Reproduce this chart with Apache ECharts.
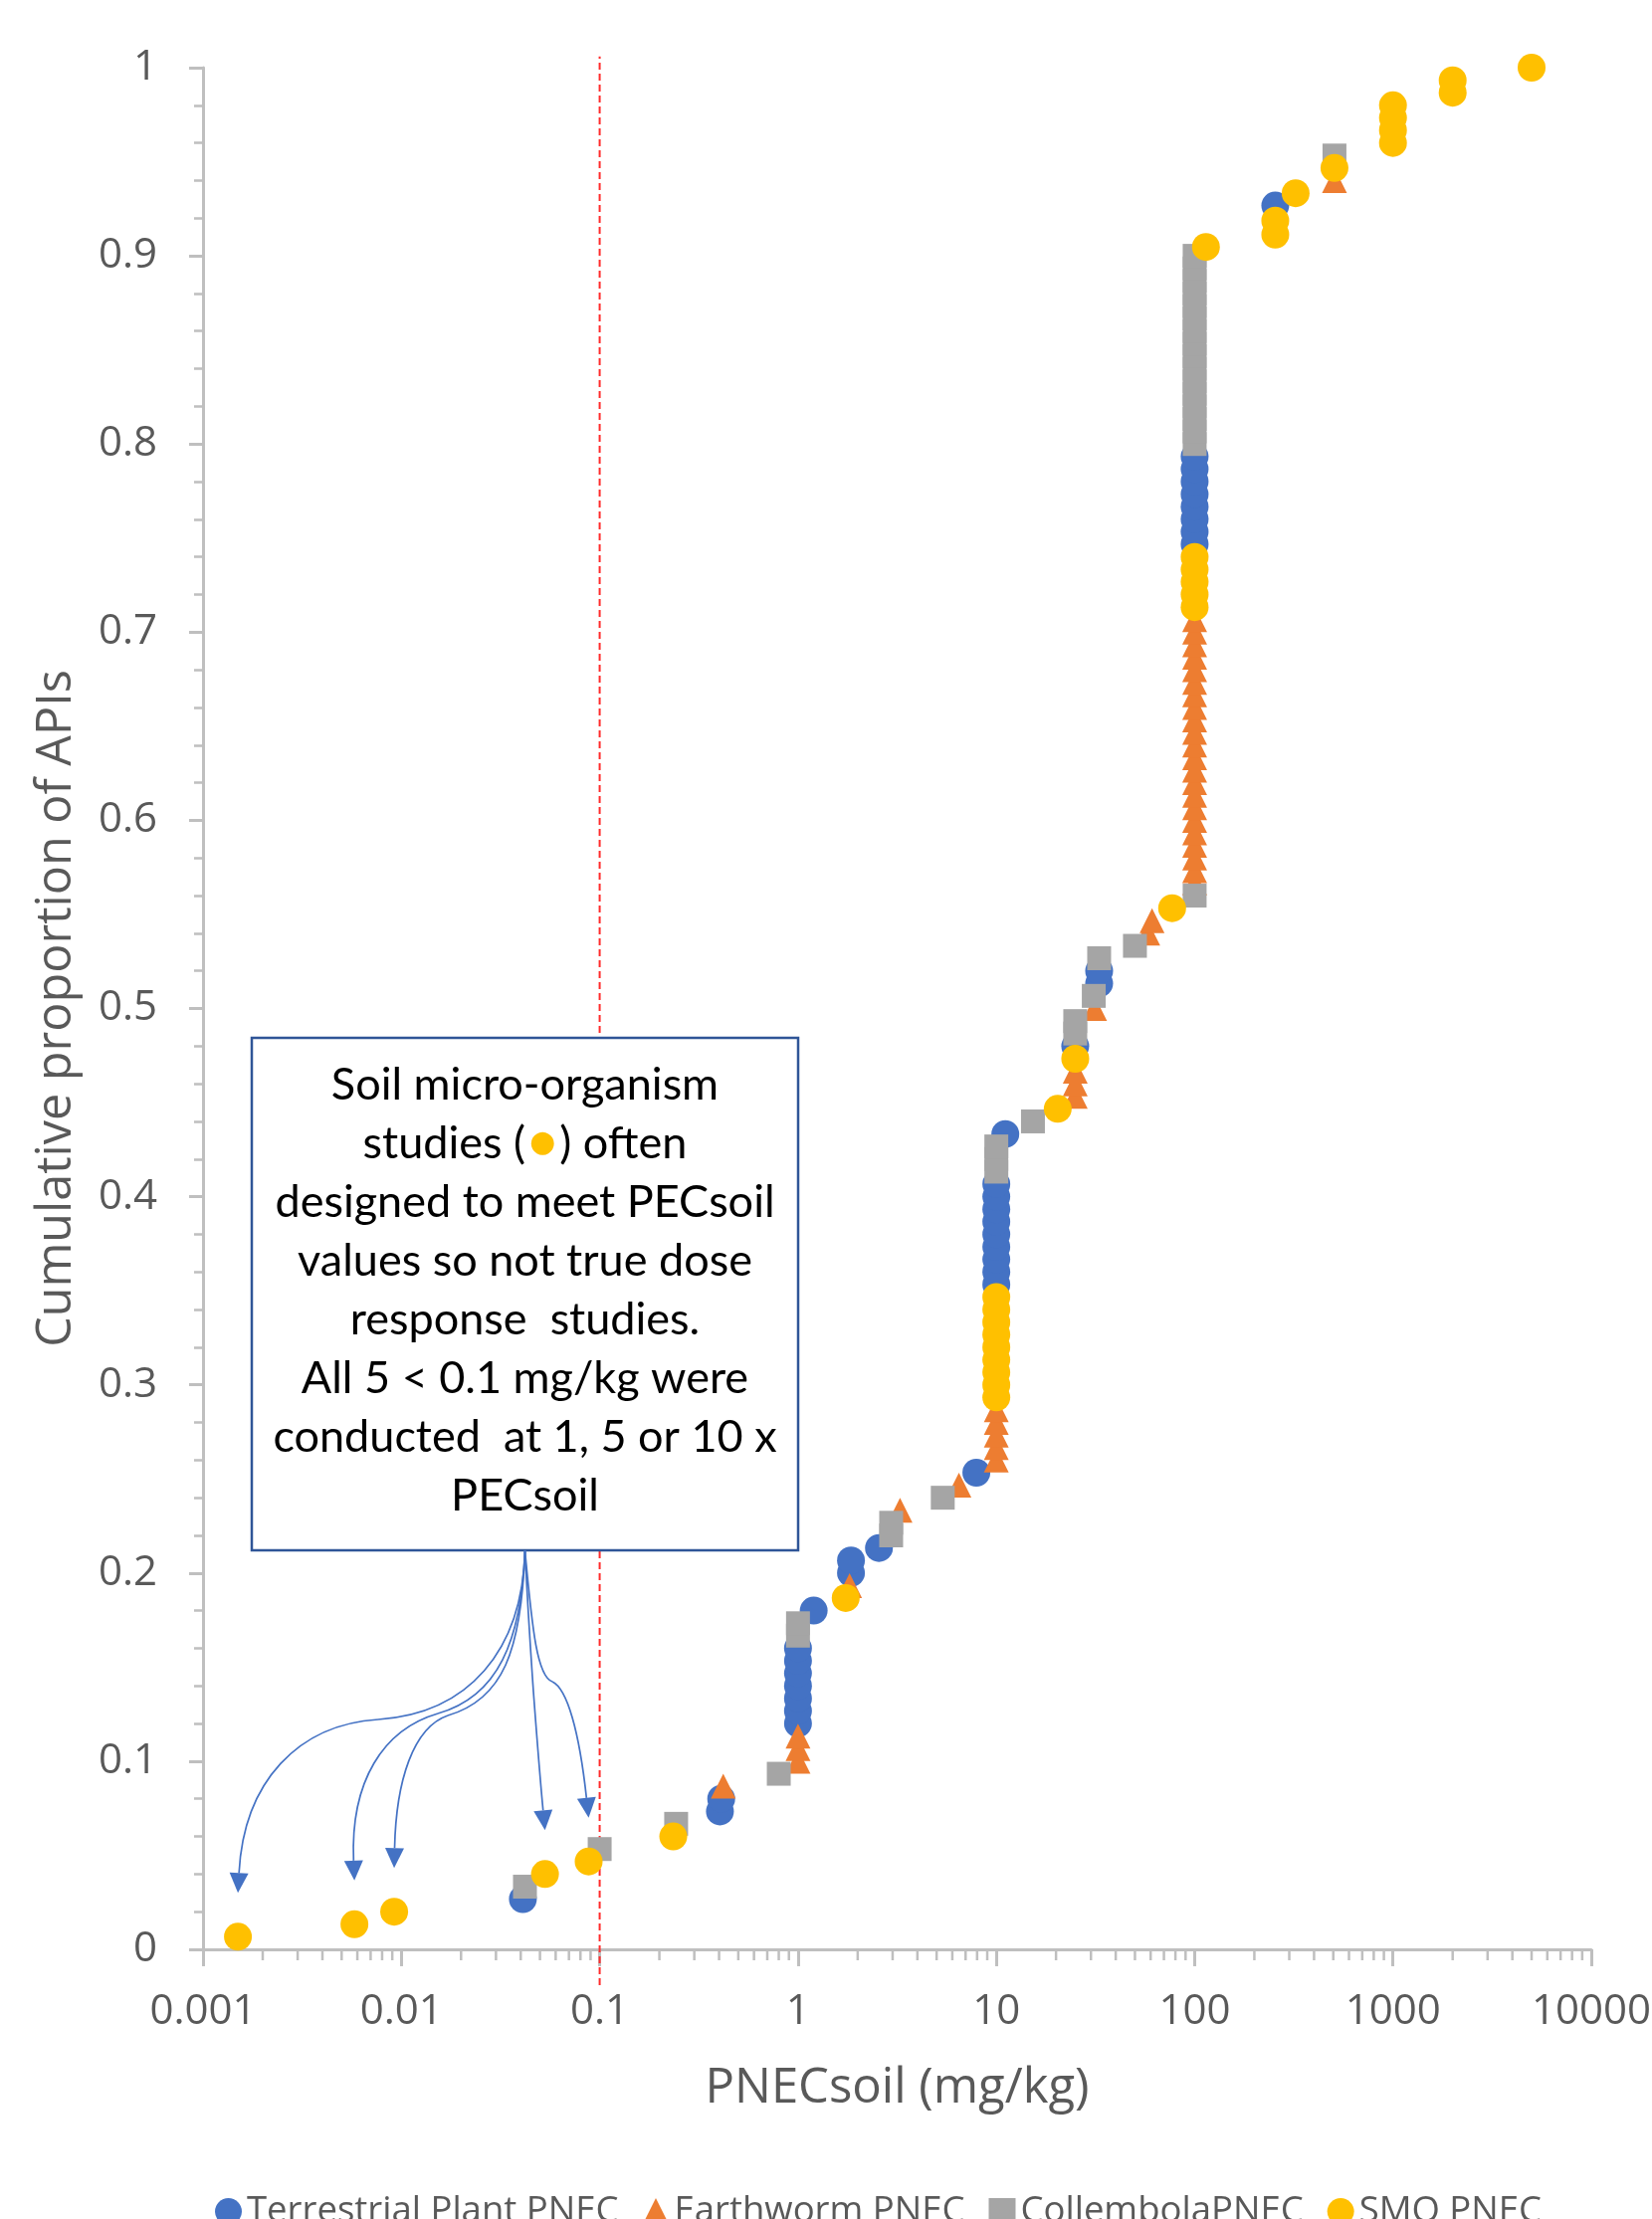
<!DOCTYPE html>
<html>
<head>
<meta charset="utf-8">
<title>Cumulative distribution of PNECsoil</title>
<script src="https://cdn.jsdelivr.net/npm/echarts@6/dist/echarts.min.js"></script>
<style>
  html, body { margin: 0; padding: 0; background: #fff; overflow: hidden; }
  #chart { width: 1660px; height: 2230px; }
</style>
</head>
<body>
<div id="chart"></div>
<script>
// PNECsoil (mg/kg) against cumulative proportion of APIs
const seriesNames = ['Terrestrial Plant PNEC', 'Earthworm PNEC', 'CollembolaPNEC', 'SMO PNEC'];

const plantPnec = [
  [0.041, 0.0267],
  [0.404, 0.0733], [0.41, 0.08],
  [1, 0.12], [1, 0.1267], [1, 0.1333], [1, 0.14], [1, 0.1467], [1, 0.1533], [1, 0.16],
  [1.2, 0.18],
  [1.85, 0.2], [1.85, 0.2067],
  [2.56, 0.2133],
  [7.93, 0.2533],
  [10, 0.3533], [10, 0.36], [10, 0.3667], [10, 0.3733], [10, 0.38], [10, 0.3867], [10, 0.3933], [10, 0.4], [10, 0.4067],
  [11.1, 0.4333],
  [25, 0.48],
  [33, 0.5133], [33, 0.52],
  [100, 0.7467], [100, 0.7533], [100, 0.76], [100, 0.7667], [100, 0.7733], [100, 0.78], [100, 0.7867], [100, 0.7933],
  [255, 0.9267]
];

const earthwormPnec = [
  [0.42, 0.0867],
  [1, 0.1], [1, 0.1067], [1, 0.1133],
  [1.82, 0.1933],
  [3.27, 0.2333],
  [6.48, 0.2467],
  [10, 0.26], [10, 0.2667], [10, 0.2733], [10, 0.28], [10, 0.2867],
  [25, 0.4533], [25, 0.46], [25, 0.4667],
  [31.3, 0.5],
  [58, 0.54], [61, 0.5467],
  [100, 0.5667], [100, 0.5733], [100, 0.58], [100, 0.5867], [100, 0.5933], [100, 0.6],
  [100, 0.6067], [100, 0.6133], [100, 0.62], [100, 0.6267], [100, 0.6333], [100, 0.64],
  [100, 0.6467], [100, 0.6533], [100, 0.66], [100, 0.6667], [100, 0.6733], [100, 0.68],
  [100, 0.6867], [100, 0.6933], [100, 0.7], [100, 0.7067],
  [507, 0.94]
];

const collembolaPnec = [
  [0.042, 0.0333],
  [0.1, 0.0533],
  [0.243, 0.0667],
  [0.8, 0.0933],
  [1, 0.1667], [1, 0.1733],
  [2.95, 0.22], [2.95, 0.2267],
  [5.37, 0.24],
  [10, 0.4133], [10, 0.42], [10, 0.4267],
  [15.3, 0.44],
  [25, 0.4867], [25, 0.4933],
  [31, 0.5067],
  [33, 0.5267],
  [50, 0.5333],
  [100, 0.56],
  [100, 0.8], [100, 0.8067], [100, 0.8133], [100, 0.82], [100, 0.8267], [100, 0.8333],
  [100, 0.84], [100, 0.8467], [100, 0.8533], [100, 0.86], [100, 0.8667], [100, 0.8733],
  [100, 0.88], [100, 0.8867], [100, 0.8933], [100, 0.9],
  [507, 0.9533]
];

const smoPnec = [
  [0.0015, 0.0067], [0.0058, 0.0133], [0.0092, 0.02], [0.053, 0.04], [0.088, 0.0467],
  [0.235, 0.06],
  [1.74, 0.1867],
  [10, 0.2933], [10, 0.3], [10, 0.3067], [10, 0.3133], [10, 0.32], [10, 0.3267], [10, 0.3333], [10, 0.34], [10, 0.3467],
  [20.4, 0.4467],
  [25, 0.4733],
  [77, 0.5533],
  [100, 0.7133], [100, 0.72], [100, 0.7267], [100, 0.7333], [100, 0.74],
  [114, 0.9047],
  [255, 0.9113], [255, 0.9187],
  [323, 0.9333],
  [507, 0.9467],
  [1000, 0.96], [1000, 0.9667], [1000, 0.9733], [1000, 0.98],
  [2000, 0.9867], [2000, 0.9933],
  [5000, 1]
];

// dashed reference line at PNECsoil = 0.1 mg/kg (runs a little past the plot like the original)
const refLine = [[0.1, -0.019], [0.1, 1.006]];

const xTickLabels = ['0.001', '0.01', '0.1', '1', '10', '100', '1000', '10000'];
const yTickLabels = ['0', '0.1', '0.2', '0.3', '0.4', '0.5', '0.6', '0.7', '0.8', '0.9', '1'];
const xMinorSteps = [2, 3, 4, 5, 6, 7, 8, 9];

const noteLines = [
  'Soil micro-organism',
  'studies ({dot|●}) often',
  'designed to meet PECsoil',
  'values so not true dose',
  'response  studies.',
  'All 5 < 0.1 mg/kg were',
  'conducted  at 1, 5 or 10 x',
  'PECsoil'
];

const axisGrey = '#bfbfbf';
const textGrey = '#595959';
const font = '"Open Sans", "Noto Sans", sans-serif';

const chart = echarts.init(document.getElementById('chart'));

function scatter(name, data, symbol, size, color) {
  return {
    name, type: 'scatter', data, symbol, symbolSize: size,
    itemStyle: { color, opacity: 1 },
    emphasis: { disabled: true }
  };
}

chart.setOption({
  animation: false,
  backgroundColor: '#ffffff',
  textStyle: { fontFamily: font },
  grid: { left: 204, right: 61, top: 68, bottom: 271, containLabel: false, outerBoundsMode: 'none' },
  legend: {
    data: seriesNames,
    left: 211, top: 2199,
    itemWidth: 27, itemHeight: 27, itemGap: 24,
    textStyle: { fontSize: 36.5, color: textGrey, fontFamily: font }
  },
  xAxis: {
    type: 'log', logBase: 10, min: 0.001, max: 10000, splitNumber: 7,
    name: 'PNECsoil (mg/kg)', nameLocation: 'middle', nameGap: 116,
    nameTextStyle: { fontSize: 49, color: textGrey, fontFamily: font },
    axisLine: { show: true, lineStyle: { color: axisGrey, width: 3 } },
    axisTick: { show: true, length: 17, lineStyle: { color: axisGrey, width: 3 } },
    axisLabel: {
      margin: 42, fontSize: 42, color: textGrey, fontFamily: font,
      formatter: (v) => xTickLabels[Math.round(Math.log10(v)) + 3]
    },
    splitLine: { show: false }
  },
  yAxis: {
    type: 'value', min: 0, max: 1, interval: 0.1,
    name: 'Cumulative proportion of APIs', nameLocation: 'middle', nameGap: 122,
    nameTextStyle: { fontSize: 48.5, color: textGrey, fontFamily: font },
    axisLine: { show: true, onZero: false, lineStyle: { color: axisGrey, width: 3 } },
    axisTick: { show: true, length: 14, lineStyle: { color: axisGrey, width: 3 } },
    minorTick: { show: true, splitNumber: 5, length: 9, lineStyle: { color: axisGrey, width: 2.5 } },
    axisLabel: {
      margin: 46, fontSize: 42, color: textGrey, fontFamily: font,
      formatter: (v, i) => yTickLabels[i]
    },
    splitLine: { show: false }
  },
  series: [
    {
      name: 'PNEC 0.1', type: 'line', data: refLine, symbol: 'none', clip: false, silent: true, z: 1,
      lineStyle: { color: '#ff2b2b', width: 2, type: [7, 4] }
    },
    scatter(seriesNames[0], plantPnec, 'circle', 28, '#4472c4'),
    scatter(seriesNames[1], earthwormPnec, 'triangle', 25, '#ed7d31'),
    scatter(seriesNames[2], collembolaPnec, 'rect', 24, '#a5a5a5'),
    scatter(seriesNames[3], smoPnec, 'circle', 28, '#ffc000')
  ]
});

// extra pieces placed with the chart's own scales
const xPx = (v) => chart.convertToPixel({ xAxisIndex: 0 }, v);
const yPx = (v) => chart.convertToPixel({ yAxisIndex: 0 }, v);
const ptPx = (p) => chart.convertToPixel({ gridIndex: 0 }, p);

const elements = [];
const axisY = yPx(0);

// minor ticks 2..9 inside every decade of the log axis
for (let k = -3; k < 4; k++) {
  xMinorSteps.forEach((m) => {
    const x = xPx(m * Math.pow(10, k));
    elements.push({
      type: 'line', silent: true, z: 50,
      shape: { x1: x, y1: axisY, x2: x, y2: axisY + 11 },
      style: { stroke: axisGrey, lineWidth: 2.5 }
    });
  });
}

// note box
const box = { x: 253, y: 1043, width: 549, height: 515 };
elements.push({
  type: 'rect', z: 100, silent: true,
  shape: box,
  style: { fill: '#ffffff', stroke: '#2f5597', lineWidth: 2.5 }
});
elements.push({
  type: 'text', z: 101, silent: true,
  x: box.x + box.width / 2, y: 1061,
  style: {
    text: noteLines.join('\n'),
    fill: '#000000', fontFamily: 'Lato, "Open Sans", sans-serif', fontSize: 45,
    lineHeight: 59, align: 'center', verticalAlign: 'top',
    rich: { dot: { fill: '#ffc000', fontSize: 30, lineHeight: 59, fontFamily: '"DejaVu Sans"', padding: [0, 4, 0, 4] } }
  }
});

// arrows from the note down to the five SMO values below 0.1 mg/kg
const origin = [box.x + box.width / 2, box.y + box.height];
const arrows = [
  { target: 0, c1: [525, 1660], c2: [470, 1722], mid: [380, 1728], c3: [300, 1733], c4: [245, 1790] },
  { target: 1, c1: [524, 1650], c2: [500, 1705], mid: [440, 1722], c3: [385, 1738], c4: [352, 1790] },
  { target: 2, c1: [524, 1660], c2: [505, 1708], mid: [450, 1724], c3: [415, 1736], c4: [398, 1790] },
  { target: 3, c1: [531, 1630], c2: [534, 1670], mid: [536, 1700], c3: [539, 1740], c4: [542, 1780] },
  { target: 4, c1: [535, 1640], c2: [540, 1685], mid: [555, 1690], c3: [570, 1697], c4: [582, 1740] }
];
const arrowBlue = '#4472c4';
arrows.forEach((a) => {
  const p = ptPx(smoPnec[a.target]);
  const tip = [p[0], p[1] - 44];
  let dx = tip[0] - a.c4[0], dy = tip[1] - a.c4[1];
  const len = Math.hypot(dx, dy);
  dx /= len; dy /= len;
  const base = [tip[0] - dx * 20, tip[1] - dy * 20];
  const px = -dy * 9.5, py = dx * 9.5;
  elements.push({
    type: 'bezierCurve', z: 102, silent: true,
    shape: { x1: origin[0], y1: origin[1], x2: a.mid[0], y2: a.mid[1], cpx1: a.c1[0], cpy1: a.c1[1], cpx2: a.c2[0], cpy2: a.c2[1] },
    style: { stroke: arrowBlue, lineWidth: 1.7, fill: null }
  });
  elements.push({
    type: 'bezierCurve', z: 102, silent: true,
    shape: { x1: a.mid[0], y1: a.mid[1], x2: base[0], y2: base[1], cpx1: a.c3[0], cpy1: a.c3[1], cpx2: a.c4[0], cpy2: a.c4[1] },
    style: { stroke: arrowBlue, lineWidth: 1.7, fill: null }
  });
  elements.push({
    type: 'polygon', z: 102, silent: true,
    shape: { points: [tip, [base[0] + px, base[1] + py], [base[0] - px, base[1] - py]] },
    style: { fill: arrowBlue }
  });
});

chart.setOption({ graphic: { elements } });
</script>
</body>
</html>
